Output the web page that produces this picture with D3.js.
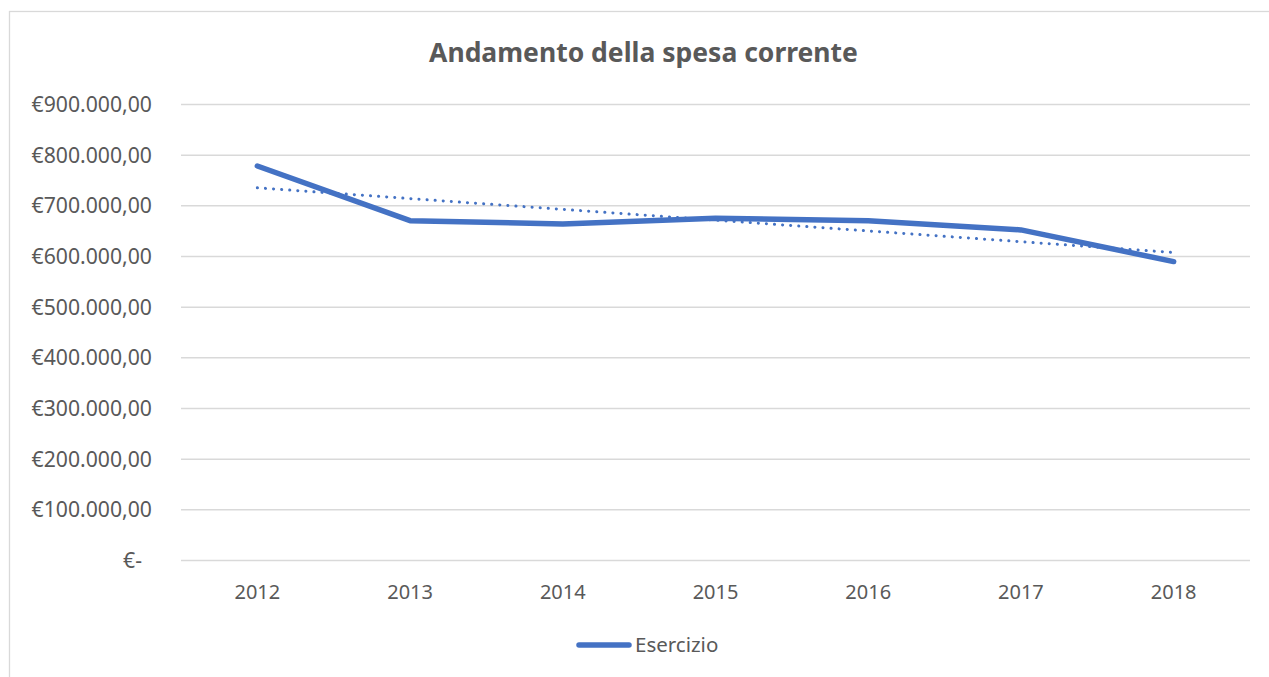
<!DOCTYPE html>
<html>
<head>
<meta charset="utf-8">
<script src="https://cdn.jsdelivr.net/npm/d3@7"></script>
<style>
	body { margin: 0; background: #fff; }
	text { font-family: "Noto Sans", sans-serif; fill: #595959; }
</style>
</head>
<body>
<div id="svg_div"><svg></svg></div>
<script>
// chart data
var years = ["2012", "2013", "2014", "2015", "2016", "2017", "2018"];
var spesa = [777600, 669700, 663400, 674400, 669700, 651500, 589000];
var yTicks = [0, 100000, 200000, 300000, 400000, 500000, 600000, 700000, 800000, 900000];
var seriesName = "Esercizio";
var title = "Andamento della spesa corrente";

var svg, xScale, yScale;

// format like excel accounting: €900.000,00
function euro(v) {
	if (v == 0) return "€-";
	var s = Math.round(v).toString().replace(/\B(?=(\d{3})+(?!\d))/g, ".");
	return "€" + s + ",00";
}

// least squares trend line over category index
function trend(values) {
	var n = values.length;
	var mx = (n - 1) / 2;
	var my = d3.mean(values);
	var num = 0, den = 0;
	for (var i = 0; i < n; i++) {
		num += (i - mx) * (values[i] - my);
		den += (i - mx) * (i - mx);
	}
	var b = num / den;
	return values.map(function(d, i) { return my + b * (i - mx); });
}

function initialize() {
	var w = 1269;
	var h = 677;
	var left = 181, right = 1250, top = 104, bottom = 560;

	svg = d3.select("#svg_div").select("svg")
		.attr("width", w)
		.attr("height", h)
		.style("display", "block");

	// chart border
	svg.append("rect")
		.attr("x", 9.5)
		.attr("y", 11.5)
		.attr("width", w)
		.attr("height", h)
		.attr("fill", "none")
		.attr("stroke", "#d9d9d9")
		.attr("stroke-width", 1.3);

	xScale = d3.scaleBand()
		.domain(years)
		.range([left, right]);
	yScale = d3.scaleLinear()
		.domain([0, 900000])
		.range([bottom, top]);

	// grid + y labels
	var yAxis = d3.axisLeft(yScale)
		.tickValues(yTicks)
		.tickSize(-(right - left))
		.tickPadding(29)
		.tickFormat(euro);
	var gy = svg.append("g")
		.attr("transform", "translate(" + left + ",0)")
		.call(yAxis);
	gy.select(".domain").remove();
	gy.selectAll(".tick line")
		.attr("stroke", "#d9d9d9")
		.attr("stroke-width", 1.5);
	gy.selectAll(".tick text")
		.attr("font-size", "21.2px")
		.attr("fill", "#595959")
		.attr("dy", "0.36em")
		.attr("dx", function(d) { return d == 0 ? -10 : 0; });

	// x labels
	var xAxis = d3.axisBottom(xScale)
		.tickSize(0)
		.tickPadding(25);
	var gx = svg.append("g")
		.attr("transform", "translate(0," + bottom + ")")
		.call(xAxis);
	gx.select(".domain").remove();
	gx.selectAll(".tick text")
		.attr("font-size", "20px")
		.attr("fill", "#595959");

	var cx = function(d, i) { return xScale(years[i]) + xScale.bandwidth() / 2; };

	// dotted linear trend
	var tr = trend(spesa);
	svg.append("path")
		.datum(tr)
		.attr("d", d3.line().x(cx).y(function(d) { return yScale(d); }))
		.attr("fill", "none")
		.attr("stroke", "#4472c4")
		.attr("stroke-width", 3)
		.attr("stroke-linecap", "round")
		.attr("stroke-dasharray", "0.1 8");

	// main series
	svg.append("path")
		.datum(spesa)
		.attr("d", d3.line().x(cx).y(function(d) { return yScale(d); }))
		.attr("fill", "none")
		.attr("stroke", "#4472c4")
		.attr("stroke-width", 5.5)
		.attr("stroke-linecap", "round")
		.attr("stroke-linejoin", "round");

	// title
	svg.append("text")
		.attr("x", 643.5)
		.attr("y", 62)
		.attr("text-anchor", "middle")
		.attr("font-size", "26.5px")
		.attr("font-weight", "bold")
		.text(title);

	// legend
	svg.append("line")
		.attr("x1", 579)
		.attr("x2", 629)
		.attr("y1", 645)
		.attr("y2", 645)
		.attr("stroke", "#4472c4")
		.attr("stroke-width", 5.5)
		.attr("stroke-linecap", "round");
	svg.append("text")
		.attr("x", 635)
		.attr("y", 652)
		.attr("font-size", "20.5px")
		.text(seriesName);
}

initialize();
</script>
</body>
</html>
